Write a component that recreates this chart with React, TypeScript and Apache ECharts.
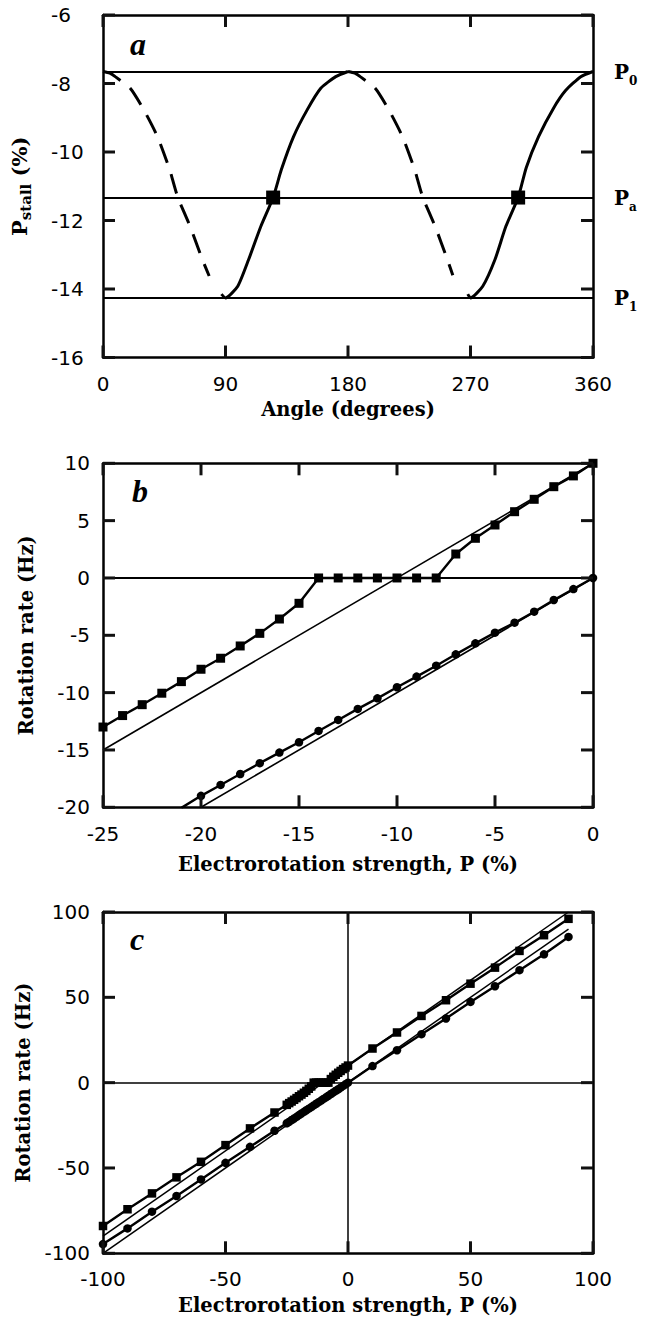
import React, { useEffect, useRef } from "react";
import * as echarts from "echarts";

// ---------- Panel a ----------
const solidAngle1 = [87, 90, 99, 107, 116, 125, 131, 140, 150, 160, 171, 180];
const solidP1 = [-14.15, -14.26, -13.92, -13.14, -12.17, -11.33, -10.52, -9.55, -8.77, -8.14, -7.8, -7.65];
const dashAngle1 = [0, 5, 9, 20, 30, 40, 49, 55, 64, 73, 78];
const dashP1 = [-7.65, -7.7, -7.8, -8.14, -8.77, -9.55, -10.52, -11.33, -12.17, -13.14, -13.62];
const solidAngle2 = [268, 270, 279, 288, 296, 305, 311, 320, 331, 340, 351, 360];
const solidP2 = [-14.15, -14.26, -13.92, -13.14, -12.17, -11.33, -10.45, -9.55, -8.72, -8.2, -7.8, -7.65];
const dashAngle2 = [180, 185, 189, 200, 210, 220, 229, 235, 244, 253, 257];
const dashP2 = [-7.65, -7.7, -7.8, -8.14, -8.77, -9.55, -10.52, -11.33, -12.17, -13.14, -13.6];
const stallAngle = [125, 305];
const stallP = [-11.33, -11.33];
const levelNames = ["0", "a", "1"];
const levelP = [-7.65, -11.33, -14.26];
const xTicksA = [0, 90, 180, 270, 360];
const yTicksA = [-16, -14, -12, -10, -8, -6];

// ---------- Panel b ----------
const strengthB = [-25, -24, -23, -22, -21, -20, -19, -18, -17, -16, -15, -14, -13, -12, -11, -10, -9, -8, -7, -6, -5, -4, -3, -2, -1, 0];
const squaresB = [-13, -12, -11.05, -10.05, -9.04, -7.96, -7.0, -5.93, -4.83, -3.58, -2.21, 0, 0, 0, 0, 0, 0, 0, 2.09, 3.46, 4.62, 5.78, 6.86, 7.96, 8.9, 10];
const strengthCircB = [-21, -20, -19, -18, -17, -16, -15, -14, -13, -12, -11, -10, -9, -8, -7, -6, -5, -4, -3, -2, -1, 0];
const circlesB = [-20.05, -19.0, -18.05, -17.1, -16.15, -15.23, -14.33, -13.34, -12.38, -11.42, -10.5, -9.53, -8.6, -7.65, -6.66, -5.7, -4.77, -3.9, -2.94, -1.92, -0.97, 0];
const fitSquaresB = [[-25, -15], [0, 10]];
const fitCirclesB = [[-20, -20], [0, 0]];
const xTicksB = [-25, -20, -15, -10, -5, 0];
const yTicksB = [-20, -15, -10, -5, 0, 5, 10];

// ---------- Panel c ----------
const strengthCNeg = [-100, -90, -80, -70, -60, -50, -40, -30];
const strengthCPos = [10, 20, 30, 40, 50, 60, 70, 80, 90];
const squaresCNeg = [-84, -74.2, -64.9, -55.5, -46.4, -36.6, -26.8, -17.5];
const squaresCPos = [20, 29.4, 39.1, 48.3, 58, 67.4, 77.2, 86.4, 96];
const circlesCNeg = [-94.6, -85.4, -75.6, -66.4, -56.7, -47, -37.6, -28.2];
const strengthCircCExtra = [-25, -24, -23, -22];
const circlesCExtra = [-23.8, -22.9, -21.9, -21.0];
const circlesCPos = [9.7, 19, 28.4, 37.6, 47.3, 56.5, 65.9, 75.2, 85.4];
const fitSquaresC = [[-100, -90], [90, 100]];
const fitCirclesC = [[-100, -100], [90, 90]];
const xTicksC = [-100, -50, 0, 50, 100];
const yTicksC = [-100, -50, 0, 50, 100];

const SERIF = "'DejaVu Serif', serif";
const SANS = "'DejaVu Sans', sans-serif";
const BLACK = "#000";
const TICK_LEN = 12;

const pairs = (xs: number[], ys: number[]) => xs.map((x, i) => [x, ys[i]]);

export default function App() {
  const ref = useRef<HTMLDivElement>(null);

  useEffect(() => {
    document.body.style.margin = "0";
    const chart = echarts.init(ref.current!, undefined, { renderer: "svg" });

    const grids = [
      { left: 103, top: 15, width: 490, height: 342.5 },
      { left: 103, top: 463.3, width: 490, height: 344 },
      { left: 103, top: 912, width: 490, height: 341.3 },
    ];

    const mkLine = () => ({ show: true, onZero: false, lineStyle: { color: BLACK, width: 2.5 } });
    const nameStyle = { fontFamily: SERIF, fontWeight: "bold", fontSize: 19.5, color: BLACK };
    const labelStyle = { color: BLACK, fontFamily: SANS, fontSize: 20 };

    const ranges = [
      { x: [0, 360, 90], y: [-16, -6, 2], xt: xTicksA, yt: yTicksA },
      { x: [-25, 0, 5], y: [-20, 10, 5], xt: xTicksB, yt: yTicksB },
      { x: [-100, 100, 50], y: [-100, 100, 50], xt: xTicksC, yt: yTicksC },
    ];
    const xNames = ["Angle (degrees)", "Electrorotation strength, P (%)", "Electrorotation strength, P (%)"];
    const xNameGaps = [42, 47, 42];
    const yNameGaps = [70, 67, 66];

    const xAxis: any[] = [];
    const yAxis: any[] = [];
    ranges.forEach((r, g) => {
      xAxis.push({
        gridIndex: g, type: "value", position: "bottom",
        min: r.x[0], max: r.x[1], interval: r.x[2],
        axisLine: mkLine(), axisTick: { show: false }, splitLine: { show: false },
        axisLabel: { ...labelStyle, margin: g === 1 ? 17 : 16 },
        name: xNames[g], nameLocation: "middle", nameGap: xNameGaps[g], nameTextStyle: { ...nameStyle },
      });
      xAxis.push({
        gridIndex: g, type: "value", position: "top",
        min: r.x[0], max: r.x[1], interval: r.x[2],
        axisLine: mkLine(), axisTick: { show: false }, splitLine: { show: false }, axisLabel: { show: false },
      });
      yAxis.push({
        gridIndex: g, type: "value", position: "left",
        min: r.y[0], max: r.y[1], interval: r.y[2],
        axisLine: mkLine(), axisTick: { show: false }, splitLine: { show: false },
        axisLabel: g === 0 ? { ...labelStyle, align: "left", margin: 52 } : { ...labelStyle, margin: 13 },
        name: g === 0 ? "{p|P}{s|stall}{p| (%)}" : "Rotation rate (Hz)",
        nameLocation: "middle", nameRotate: 90, nameGap: yNameGaps[g],
        nameTextStyle: g === 0
          ? {
              ...nameStyle,
              rich: {
                p: { fontFamily: SERIF, fontWeight: "bold", fontSize: 21, lineHeight: 24, verticalAlign: "top", color: BLACK },
                s: { fontFamily: SERIF, fontWeight: "bold", fontSize: 15, lineHeight: 15, verticalAlign: "bottom", color: BLACK },
              },
            }
          : { ...nameStyle },
      });
      yAxis.push({
        gridIndex: g, type: "value", position: "right",
        min: r.y[0], max: r.y[1], interval: r.y[2],
        axisLine: mkLine(), axisTick: { show: false }, splitLine: { show: false }, axisLabel: { show: false },
      });
    });

    const base = { animation: false, silent: true };
    const curve = (xi: number, data: number[][], width: number, type: any = "solid", extra: any = {}) => ({
      ...base, type: "line", xAxisIndex: xi, yAxisIndex: xi, data,
      symbol: "none", lineStyle: { color: BLACK, width, type }, itemStyle: { color: BLACK }, ...extra,
    });
    const marked = (xi: number, data: number[][], symbol: string, size: number) => ({
      ...base, type: "line", xAxisIndex: xi, yAxisIndex: xi, data,
      symbol, symbolSize: size, showSymbol: true, showAllSymbol: true,
      lineStyle: { color: BLACK, width: 2.4 }, itemStyle: { color: BLACK, opacity: 1 }, z: 5,
    });
    const tickStyle = { stroke: "#111", lineWidth: 3 };
    // inward ticks on all four sides, placed through the axis scale
    const xTickSeries = (xi: number, ticks: number[], yMin: number, yMax: number) => ({
      type: "custom", xAxisIndex: xi, yAxisIndex: xi, clip: false, z: 10,
      data: ticks.map((t) => [t, yMin]),
      renderItem: (_p: any, api: any) => {
        const v = api.value(0);
        const b = api.coord([v, yMin]);
        const t = api.coord([v, yMax]);
        return {
          type: "group",
          children: [
            { type: "line", shape: { x1: b[0], y1: b[1], x2: b[0], y2: b[1] - TICK_LEN }, style: tickStyle },
            { type: "line", shape: { x1: t[0], y1: t[1], x2: t[0], y2: t[1] + TICK_LEN }, style: tickStyle },
          ],
        };
      },
    });
    const yTickSeries = (xi: number, ticks: number[], xMin: number, xMax: number) => ({
      type: "custom", xAxisIndex: xi, yAxisIndex: xi, clip: false, z: 10,
      data: ticks.map((t) => [xMin, t]),
      renderItem: (_p: any, api: any) => {
        const v = api.value(1);
        const l = api.coord([xMin, v]);
        const r = api.coord([xMax, v]);
        return {
          type: "group",
          children: [
            { type: "line", shape: { x1: l[0], y1: l[1], x2: l[0] + TICK_LEN, y2: l[1] }, style: tickStyle },
            { type: "line", shape: { x1: r[0], y1: r[1], x2: r[0] - TICK_LEN, y2: r[1] }, style: tickStyle },
          ],
        };
      },
    });

    const series: any[] = [
      curve(0, pairs(dashAngle1, dashP1), 3, [20, 12], { smooth: 0.2 }),
      curve(0, pairs(dashAngle2, dashP2), 3, [20, 12], { smooth: 0.2 }),
      curve(0, pairs(solidAngle1, solidP1), 3, "solid", { smooth: 0.2 }),
      curve(0, pairs(solidAngle2, solidP2), 3, "solid", { smooth: 0.2 }),
      {
        ...base, type: "scatter", xAxisIndex: 0, yAxisIndex: 0,
        data: pairs(stallAngle, stallP), symbol: "rect", symbolSize: 14,
        itemStyle: { color: BLACK, opacity: 1 }, z: 6,
        markLine: {
          silent: true, symbol: "none", animation: false,
          lineStyle: { color: BLACK, width: 2, type: "solid" },
          data: levelP.map((v, i) => ({ yAxis: v, name: levelNames[i] })),
          label: {
            show: true, position: "end", distance: 21,
            formatter: (p: any) => `{p|P}{s|${p.name}}`,
            rich: {
              p: { fontFamily: SERIF, fontWeight: "bold", fontSize: 20, lineHeight: 20, verticalAlign: "top", color: BLACK },
              s: { fontFamily: SERIF, fontWeight: "bold", fontSize: 12, lineHeight: 12, padding: [18, 0, 0, 0], color: BLACK },
            },
          },
        },
      },
      // panel b
      curve(2, fitSquaresB, 1.6, "solid", {
        markLine: {
          silent: true, symbol: "none", animation: false, label: { show: false },
          lineStyle: { color: BLACK, width: 1.8, type: "solid" },
          data: [{ yAxis: 0 }],
        },
      }),
      curve(2, fitCirclesB, 1.6),
      marked(2, pairs(strengthB, squaresB), "rect", 9),
      marked(2, pairs(strengthCircB, circlesB), "circle", 8.5),
      // panel c
      curve(4, fitSquaresC, 1.5, "solid", {
        markLine: {
          silent: true, symbol: "none", animation: false, label: { show: false },
          lineStyle: { color: BLACK, width: 1.5, type: "solid" },
          data: [{ yAxis: 0 }, { xAxis: 0 }],
        },
      }),
      curve(4, fitCirclesC, 1.5),
      marked(4, [
        ...pairs(strengthCNeg, squaresCNeg),
        ...pairs(strengthB, squaresB),
        ...pairs(strengthCPos, squaresCPos),
      ], "rect", 8.5),
      marked(4, [
        ...pairs(strengthCNeg, circlesCNeg),
        ...pairs(strengthCircCExtra, circlesCExtra),
        ...pairs(strengthCircB, circlesB),
        ...pairs(strengthCPos, circlesCPos),
      ], "circle", 8.5),
    ];
    ranges.forEach((r, g) => {
      const xi = g * 2;
      series.push(xTickSeries(xi, r.xt, r.y[0], r.y[1]));
      series.push(yTickSeries(xi, r.yt, r.x[0], r.x[1]));
    });

    const letter = (t: string, left: number, top: number) => ({
      type: "text", left, top, silent: true,
      style: { text: t, font: "italic bold 32px 'Liberation Serif', serif", fill: BLACK },
    });

    chart.setOption({
      animation: false,
      backgroundColor: "#fff",
      grid: grids,
      xAxis,
      yAxis,
      series,
      graphic: [letter("a", 130, 28), letter("b", 132, 475), letter("c", 130, 923)],
    });

    return () => chart.dispose();
  }, []);

  return <div ref={ref} style={{ width: 657, height: 1326, position: "absolute", left: 0, top: 0 }} />;
}
